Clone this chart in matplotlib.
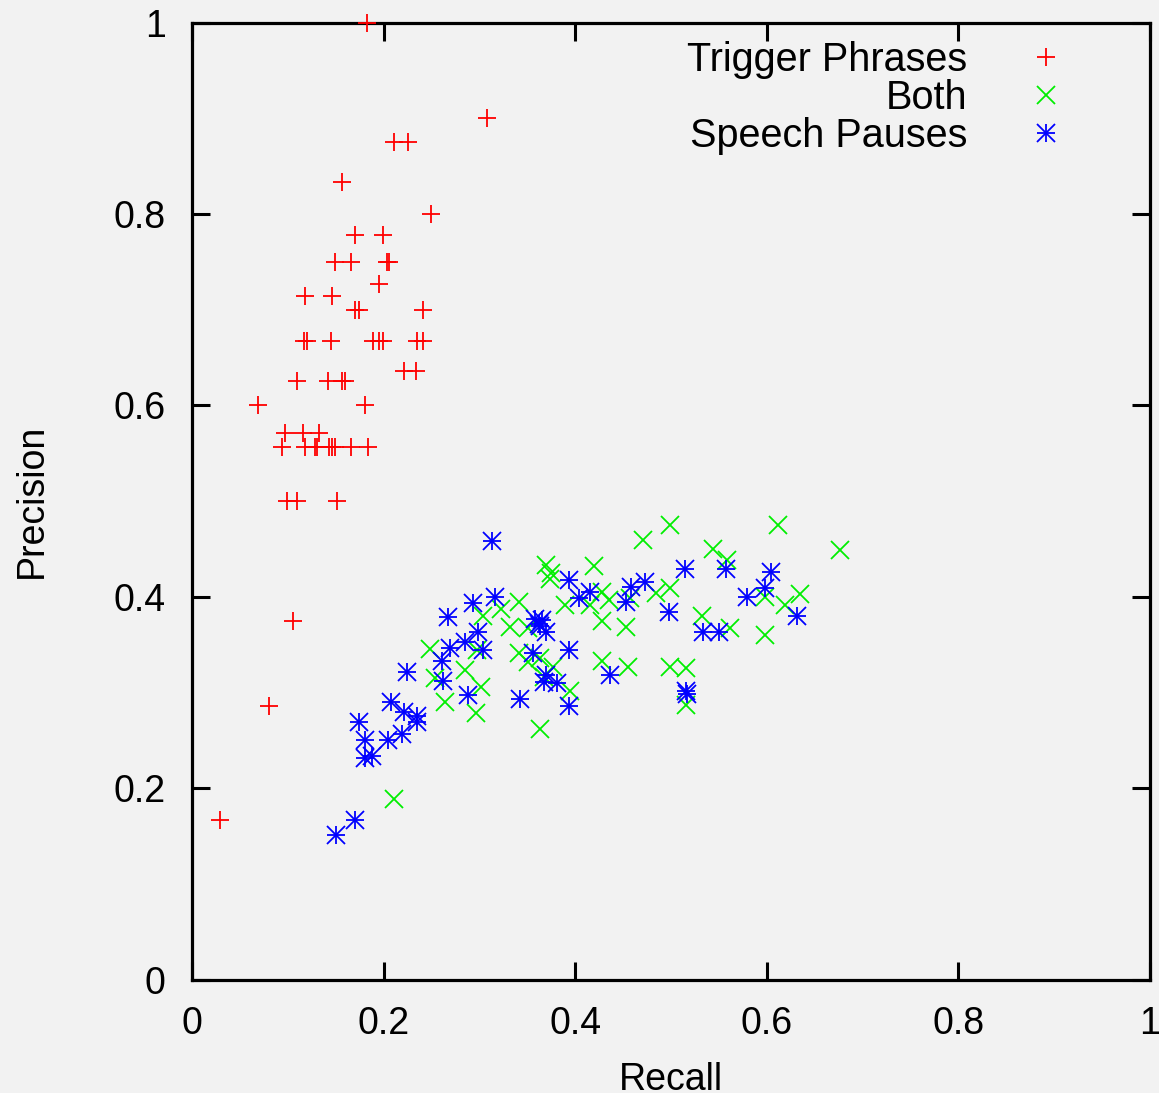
import matplotlib
matplotlib.use("Agg")
import matplotlib.pyplot as plt
from matplotlib.lines import Line2D
from matplotlib.legend_handler import HandlerTuple

# Recall / precision pairs for each segmentation cue
trigger_recall = [0.183, 0.308, 0.211, 0.225, 0.157, 0.249, 0.170, 0.199, 0.149, 0.166,
                  0.204, 0.206, 0.195, 0.118, 0.146, 0.1705, 0.174, 0.241, 0.117, 0.120,
                  0.145, 0.189, 0.195, 0.199, 0.235, 0.241, 0.221, 0.234, 0.110, 0.142,
                  0.157, 0.160, 0.069, 0.181, 0.097, 0.116, 0.133, 0.094, 0.118, 0.128,
                  0.130, 0.143, 0.146, 0.149, 0.166, 0.184, 0.099, 0.110, 0.151, 0.105,
                  0.080, 0.029]
trigger_precision = [1.0, 0.900, 0.875, 0.875, 0.833, 0.800, 0.778, 0.778, 0.750, 0.750,
                     0.750, 0.750, 0.727, 0.714, 0.714, 0.700, 0.700, 0.700, 0.667, 0.667,
                     0.667, 0.667, 0.667, 0.667, 0.667, 0.667, 0.636, 0.636, 0.625, 0.625,
                     0.625, 0.625, 0.600, 0.600, 0.571, 0.571, 0.571, 0.556, 0.556, 0.556,
                     0.556, 0.556, 0.556, 0.556, 0.556, 0.556, 0.500, 0.500, 0.500, 0.375,
                     0.286, 0.167]

both_recall = [0.211, 0.248, 0.254, 0.264, 0.285, 0.296, 0.297, 0.302, 0.304, 0.323,
               0.332, 0.341, 0.341, 0.351, 0.351, 0.363, 0.363, 0.367, 0.370, 0.375,
               0.374, 0.377, 0.389, 0.395, 0.415, 0.420, 0.428, 0.435, 0.428, 0.428,
               0.453, 0.455, 0.457, 0.471, 0.484, 0.499, 0.499, 0.499, 0.516, 0.516,
               0.532, 0.544, 0.558, 0.562, 0.598, 0.598, 0.612, 0.619, 0.635, 0.676]
both_precision = [0.189, 0.345, 0.315, 0.290, 0.323, 0.278, 0.344, 0.306, 0.380, 0.387,
                  0.368, 0.395, 0.341, 0.367, 0.332, 0.336, 0.262, 0.316, 0.433, 0.425,
                  0.419, 0.327, 0.391, 0.302, 0.391, 0.432, 0.405, 0.397, 0.375, 0.333,
                  0.368, 0.327, 0.399, 0.459, 0.404, 0.409, 0.475, 0.327, 0.326, 0.287,
                  0.380, 0.450, 0.438, 0.367, 0.400, 0.360, 0.475, 0.391, 0.403, 0.449]

pause_recall = [0.150, 0.170, 0.174, 0.181, 0.181, 0.188, 0.205, 0.208, 0.219, 0.221,
                0.224, 0.235, 0.235, 0.261, 0.262, 0.267, 0.269, 0.285, 0.288, 0.293,
                0.299, 0.304, 0.313, 0.316, 0.342, 0.356, 0.358, 0.365, 0.362, 0.363,
                0.370, 0.370, 0.367, 0.381, 0.393, 0.393, 0.393, 0.404, 0.415, 0.436,
                0.453, 0.458, 0.473, 0.498, 0.515, 0.516, 0.517, 0.533, 0.550, 0.557,
                0.579, 0.598, 0.604, 0.632]
pause_precision = [0.151, 0.167, 0.269, 0.250, 0.231, 0.234, 0.250, 0.290, 0.257, 0.280,
                   0.321, 0.275, 0.269, 0.333, 0.312, 0.379, 0.346, 0.353, 0.297, 0.393,
                   0.363, 0.344, 0.458, 0.400, 0.293, 0.341, 0.377, 0.376, 0.372, 0.369,
                   0.363, 0.318, 0.311, 0.310, 0.417, 0.344, 0.286, 0.399, 0.405, 0.318,
                   0.395, 0.410, 0.415, 0.384, 0.429, 0.302, 0.298, 0.363, 0.363, 0.429,
                   0.400, 0.409, 0.426, 0.380]

tick_values = [0, 0.2, 0.4, 0.6, 0.8, 1]
tick_labels = ["0", "0.2", "0.4", "0.6", "0.8", "1"]

plt.rcParams["font.family"] = ["Liberation Sans", "DejaVu Sans"]
FS = 27
LEG_FS = 28.5
BG = "#f2f2f2"

fig = plt.figure(figsize=(11.59, 10.93), dpi=100, facecolor=BG)
ax = fig.add_axes([0.1657, 0.1038, 0.9922 - 0.1657, 0.9794 - 0.1038], facecolor=BG)

ms = 12.5
mew = 1.3
ax.plot(trigger_recall, trigger_precision, linestyle="none", marker="+",
        color="#ff0000", markersize=ms, markeredgewidth=mew, clip_on=False, zorder=3)
ax.plot(both_recall, both_precision, linestyle="none", marker="x",
        color="#00ee00", markersize=ms, markeredgewidth=mew, clip_on=False, zorder=4)
# asterisk = plus overlaid with cross
ax.plot(pause_recall, pause_precision, linestyle="none", marker="+",
        color="#0000ff", markersize=ms, markeredgewidth=mew, zorder=5)
ax.plot(pause_recall, pause_precision, linestyle="none", marker="x",
        color="#0000ff", markersize=ms, markeredgewidth=mew, zorder=5)

ax.set_xlim(0, 1)
ax.set_ylim(0, 1)
ax.set_xticks(tick_values)
ax.set_xticklabels(tick_labels)
ax.set_yticks(tick_values)
ax.set_yticklabels(tick_labels)
ax.tick_params(direction="in", length=13, width=2.2, labelsize=FS, pad=19,
               top=True, right=True, colors="black")
for sp in ax.spines.values():
    sp.set_linewidth(2.3)
    sp.set_color("black")

ax.set_xlabel("Recall", fontsize=FS)
ax.set_ylabel("Precision", fontsize=FS)
ax.xaxis.set_label_coords(0.5, -0.086)
ax.yaxis.set_label_coords(-0.148, 0.5)

h_trig = Line2D([], [], linestyle="none", marker="+", color="#ff0000",
                markersize=ms, markeredgewidth=mew)
h_both = Line2D([], [], linestyle="none", marker="x", color="#00ee00",
                markersize=ms, markeredgewidth=mew)
h_p1 = Line2D([], [], linestyle="none", marker="+", color="#0000ff",
              markersize=ms, markeredgewidth=mew)
h_p2 = Line2D([], [], linestyle="none", marker="x", color="#0000ff",
              markersize=ms, markeredgewidth=mew)
leg = ax.legend([h_trig, h_both, (h_p1, h_p2)],
                ["Trigger Phrases", "Both", "Speech Pauses"],
                handler_map={tuple: HandlerTuple(ndivide=1, pad=0)},
                loc="upper right", bbox_to_anchor=(0.9224, 0.9807),
                frameon=False, markerfirst=False, fontsize=LEG_FS,
                handlelength=1.5, handletextpad=1.245, labelspacing=0.0,
                borderpad=0, borderaxespad=0)

fig.savefig("out.png", dpi=100, facecolor=BG)
